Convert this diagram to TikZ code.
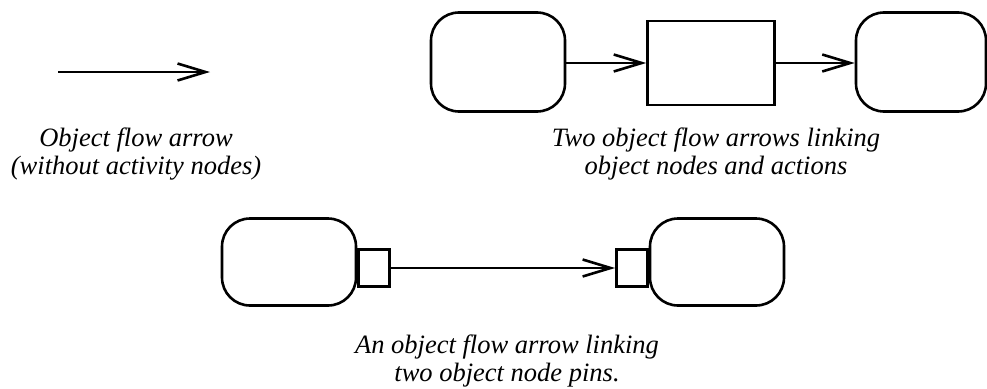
\documentclass[tikz,border=0pt]{standalone}
\usepackage{fontspec}
\setmainfont{Liberation Serif}
\usetikzlibrary{arrows.meta}
\begin{document}
\begin{tikzpicture}[x=1pt,y=-1pt,
  objnode/.style={draw,line width=2.6pt,rounded corners=28pt,minimum width=134pt,minimum height=99pt,inner sep=0pt},
  actnode/.style={draw,line width=2.6pt,minimum width=127pt,minimum height=84pt,inner sep=0pt},
  pinnode/.style={draw,line width=2.6pt,minimum width=31pt,minimum height=37pt,inner sep=0pt},
  flow/.style={line width=2.6pt,-{Straight Barb[length=28pt,width=17pt,line width=2.6pt]}},
  caption/.style={font=\itshape\fontsize{26.5}{28}\selectfont,align=center,inner sep=0pt,anchor=base}]
\useasboundingbox (0,0) rectangle (987,388);
% top left arrow
\coordinate (a1) at (58,72);
\coordinate (a2) at (210,72);
\draw[flow] (a1) -- (a2);
\node[caption] (c1a) at (136,146) {Object flow arrow};
\node[caption] (c1b) at (136,174) {(without activity nodes)};
% top right
\node[objnode] (o1) at (498,62) {};
\node[actnode] (act) at (711,63) {};
\node[objnode,minimum width=130pt] (o2) at (921,62) {};
\draw[flow] (o1.east |- act.west) -- (act.west);
\draw[flow] (act.east) -- (o2.west |- act.east);
\node[caption] (c2a) at (716,146) {Two object flow arrows linking};
\node[caption] (c2b) at (716,174) {object nodes and actions};
% bottom
\node[objnode,minimum height=87pt] (o3) at (289,262) {};
\node[pinnode,anchor=west] (p1) at (o3.east |- 0,268) {};
\node[objnode,minimum height=87pt] (o4) at (717,262) {};
\node[pinnode,anchor=east] (p2) at (o4.west |- 0,268) {};
\draw[flow] (p1.east) -- (p2.west);
\node[caption] (c3a) at (507,353) {An object flow arrow linking};
\node[caption] (c3b) at (507,381) {two object node pins.};
\end{tikzpicture}
\end{document}
